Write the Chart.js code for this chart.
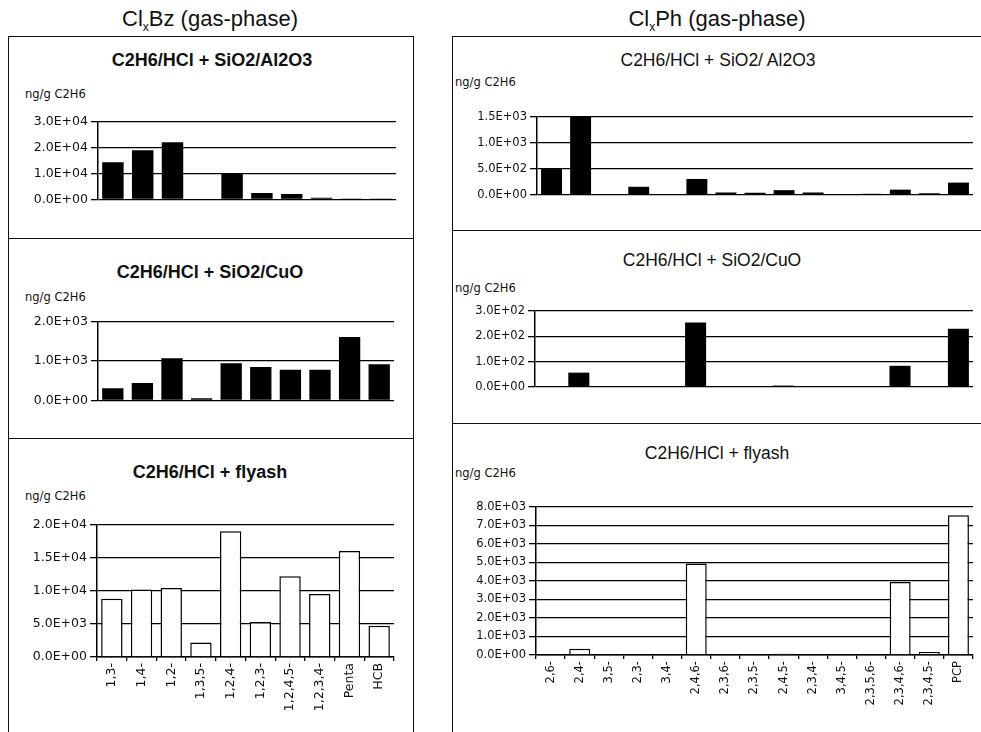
<!DOCTYPE html>
<html>
<head>
<meta charset="utf-8">
<script src="https://cdn.jsdelivr.net/npm/chart.js@4.4.1/dist/chart.umd.min.js"></script>
<style>
body{margin:0;background:#fff;width:981px;height:732px;overflow:hidden;position:relative;font-family:"Liberation Sans",Arial,sans-serif;color:#111;}
.box{position:absolute;border:1.5px solid #111;box-sizing:border-box;}
.t{position:absolute;transform:translate(-50%,-50%);white-space:nowrap;}
.col{font-size:22px;}
.pl{font-size:18px;font-weight:bold;}
.pr{font-size:17.5px;}
.unit{position:absolute;transform:translateY(-50%);white-space:nowrap;font-family:"DejaVu Sans",sans-serif;}
canvas{position:absolute;}
</style>
</head>
<body>
<div class="box" style="left:8px;top:36px;width:406px;height:203px"></div>
<div class="box" style="left:8px;top:238px;width:406px;height:201px"></div>
<div class="box" style="left:8px;top:438px;width:406px;height:310px"></div>
<div class="box" style="left:452px;top:36px;width:540px;height:195px"></div>
<div class="box" style="left:452px;top:230px;width:540px;height:194px"></div>
<div class="box" style="left:452px;top:423px;width:540px;height:320px"></div>

<div class="t col" style="left:210px;top:20px">Cl<sub style="font-size:12px">x</sub>Bz (gas-phase)</div>
<div class="t col" style="left:717px;top:20px">Cl<sub style="font-size:12px">x</sub>Ph (gas-phase)</div>

<div class="t pl" style="left:212px;top:60px">C2H6/HCl + SiO2/Al2O3</div>
<div class="t pl" style="left:210px;top:272px">C2H6/HCl + SiO2/CuO</div>
<div class="t pl" style="left:210px;top:472px">C2H6/HCl + flyash</div>
<div class="t pr" style="left:718px;top:60px">C2H6/HCl + SiO2/ Al2O3</div>
<div class="t pr" style="left:712px;top:260px">C2H6/HCl + SiO2/CuO</div>
<div class="t pr" style="left:717px;top:453px">C2H6/HCl + flyash</div>

<div class="unit" style="left:25px;top:94px;font-size:11.5px">ng/g C2H6</div>
<div class="unit" style="left:25px;top:297px;font-size:11.5px">ng/g C2H6</div>
<div class="unit" style="left:25px;top:496px;font-size:11.5px">ng/g C2H6</div>
<div class="unit" style="left:455px;top:82px;font-size:11.5px">ng/g C2H6</div>
<div class="unit" style="left:455px;top:288px;font-size:11.5px">ng/g C2H6</div>
<div class="unit" style="left:455px;top:473px;font-size:11.5px">ng/g C2H6</div>

<canvas id="bz1"></canvas>
<canvas id="bz2"></canvas>
<canvas id="bz3"></canvas>
<canvas id="ph1"></canvas>
<canvas id="ph2"></canvas>
<canvas id="ph3"></canvas>

<script>
// chlorobenzene congeners
const bzLabels = ['1,3-', '1,4-', '1,2-', '1,3,5-', '1,2,4-', '1,2,3-', '1,2,4,5-', '1,2,3,4-', 'Penta', 'HCB'];
const bzAlumina = [14300, 18900, 22000, 300, 10200, 2500, 2100, 700, 150, 60];
const bzCuO = [310, 440, 1070, 60, 940, 850, 780, 780, 1610, 920];
const bzFlyash = [8800, 10200, 10400, 2200, 19000, 5300, 12200, 9500, 16000, 4700];

// chlorophenol congeners
const phLabels = ['2,6-', '2,4-', '3,5-', '2,3-', '3,4-', '2,4,6-', '2,3,6-', '2,3,5-', '2,4,5-', '2,3,4-', '3,4,5-', '2,3,5,6-', '2,3,4,6-', '2,3,4,5-', 'PCP'];
const phAlumina = [500, 1500, 0, 160, 0, 310, 50, 45, 95, 50, 0, 25, 105, 35, 240];
const phCuO = [0, 57, 0, 0, 0, 255, 0, 0, 6, 0, 0, 0, 84, 4, 230];
const phFlyash = [35, 340, 0, 0, 0, 4940, 0, 0, 70, 35, 0, 0, 3950, 160, 7550];

// y tick values
const bzAluminaTicks = [0, 10000, 20000, 30000];
const bzCuOTicks = [0, 1000, 2000];
const bzFlyashTicks = [0, 5000, 10000, 15000, 20000];
const phAluminaTicks = [0, 500, 1000, 1500];
const phCuOTicks = [0, 100, 200, 300];
const phFlyashTicks = [0, 1000, 2000, 3000, 4000, 5000, 6000, 7000, 8000];

function sci(v) {
  if (v === 0) return '0.0E+00';
  const e = Math.floor(Math.log10(v) + 1e-9);
  const m = v / Math.pow(10, e);
  return m.toFixed(1) + 'E+' + String(e).padStart(2, '0');
}

// g: axisX, right, topY, zeroY, bottom, yw
function panel(id, labels, values, ticks, g, white, small) {
  const cv = document.getElementById(id);
  const left = g.axisX - g.yw;
  const top = g.topY - 10;
  cv.width = g.right + 4 - left;
  cv.height = g.bottom - top;
  cv.style.left = left + 'px';
  cv.style.top = top + 'px';
  const showX = !!g.xLabels;
  new Chart(cv, {
    type: 'bar',
    data: {
      labels: labels,
      datasets: [{
        data: values,
        backgroundColor: white ? '#fff' : '#000',
        borderColor: '#000',
        borderWidth: white ? 1.5 : 0,
        barPercentage: 0.72,
        categoryPercentage: 1
      }]
    },
    options: {
      responsive: false,
      animation: false,
      layout: {
        autoPadding: false,
        padding: {top: 10, right: 4, left: 0, bottom: showX ? 0 : g.bottom - g.zeroY - 3}
      },
      plugins: {legend: {display: false}, tooltip: {enabled: false}},
      scales: {
        x: {
          display: showX,
          grid: {offset: true, drawOnChartArea: false, drawTicks: true, tickLength: 4, color: '#000', lineWidth: 1.3},
          border: {display: true, color: '#000', width: 1.5},
          ticks: {
            color: '#111', autoSkip: false, minRotation: 90, maxRotation: 90, padding: 2,
            font: {family: 'DejaVu Sans', size: small ? 11.5 : 12.5}
          },
          afterFit: s => { s.height = showX ? g.bottom - g.zeroY : 0; }
        },
        y: {
          min: 0,
          max: ticks[ticks.length - 1],
          afterBuildTicks: s => { s.ticks = ticks.map(v => ({value: v})); },
          afterFit: s => { s.width = g.yw; },
          grid: {color: '#000', lineWidth: 1.3, drawTicks: true, tickLength: 7},
          border: {display: true, color: '#000', width: 1.5},
          ticks: {
            color: '#111', padding: 3,
            font: {family: 'DejaVu Sans', size: small ? 11.5 : 12.5},
            callback: v => sci(v)
          }
        }
      }
    }
  });
}

panel('bz1', bzLabels, bzAlumina, bzAluminaTicks, {axisX: 98, right: 396, topY: 121, zeroY: 202, bottom: 210, yw: 88}, false, false);
panel('bz2', bzLabels, bzCuO, bzCuOTicks, {axisX: 98, right: 394, topY: 321, zeroY: 403, bottom: 411, yw: 88}, false, false);
panel('bz3', bzLabels, bzFlyash, bzFlyashTicks, {axisX: 97, right: 394, topY: 524, zeroY: 657, bottom: 730, yw: 87, xLabels: true}, true, false);
panel('ph1', phLabels, phAlumina, phAluminaTicks, {axisX: 537, right: 973, topY: 117, zeroY: 197, bottom: 205, yw: 84}, false, true);
panel('ph2', phLabels, phCuO, phCuOTicks, {axisX: 535, right: 973, topY: 311, zeroY: 389, bottom: 397, yw: 84}, false, true);
panel('ph3', phLabels, phFlyash, phFlyashTicks, {axisX: 536, right: 973, topY: 507, zeroY: 655, bottom: 728, yw: 84, xLabels: true}, true, true);
</script>
</body>
</html>
